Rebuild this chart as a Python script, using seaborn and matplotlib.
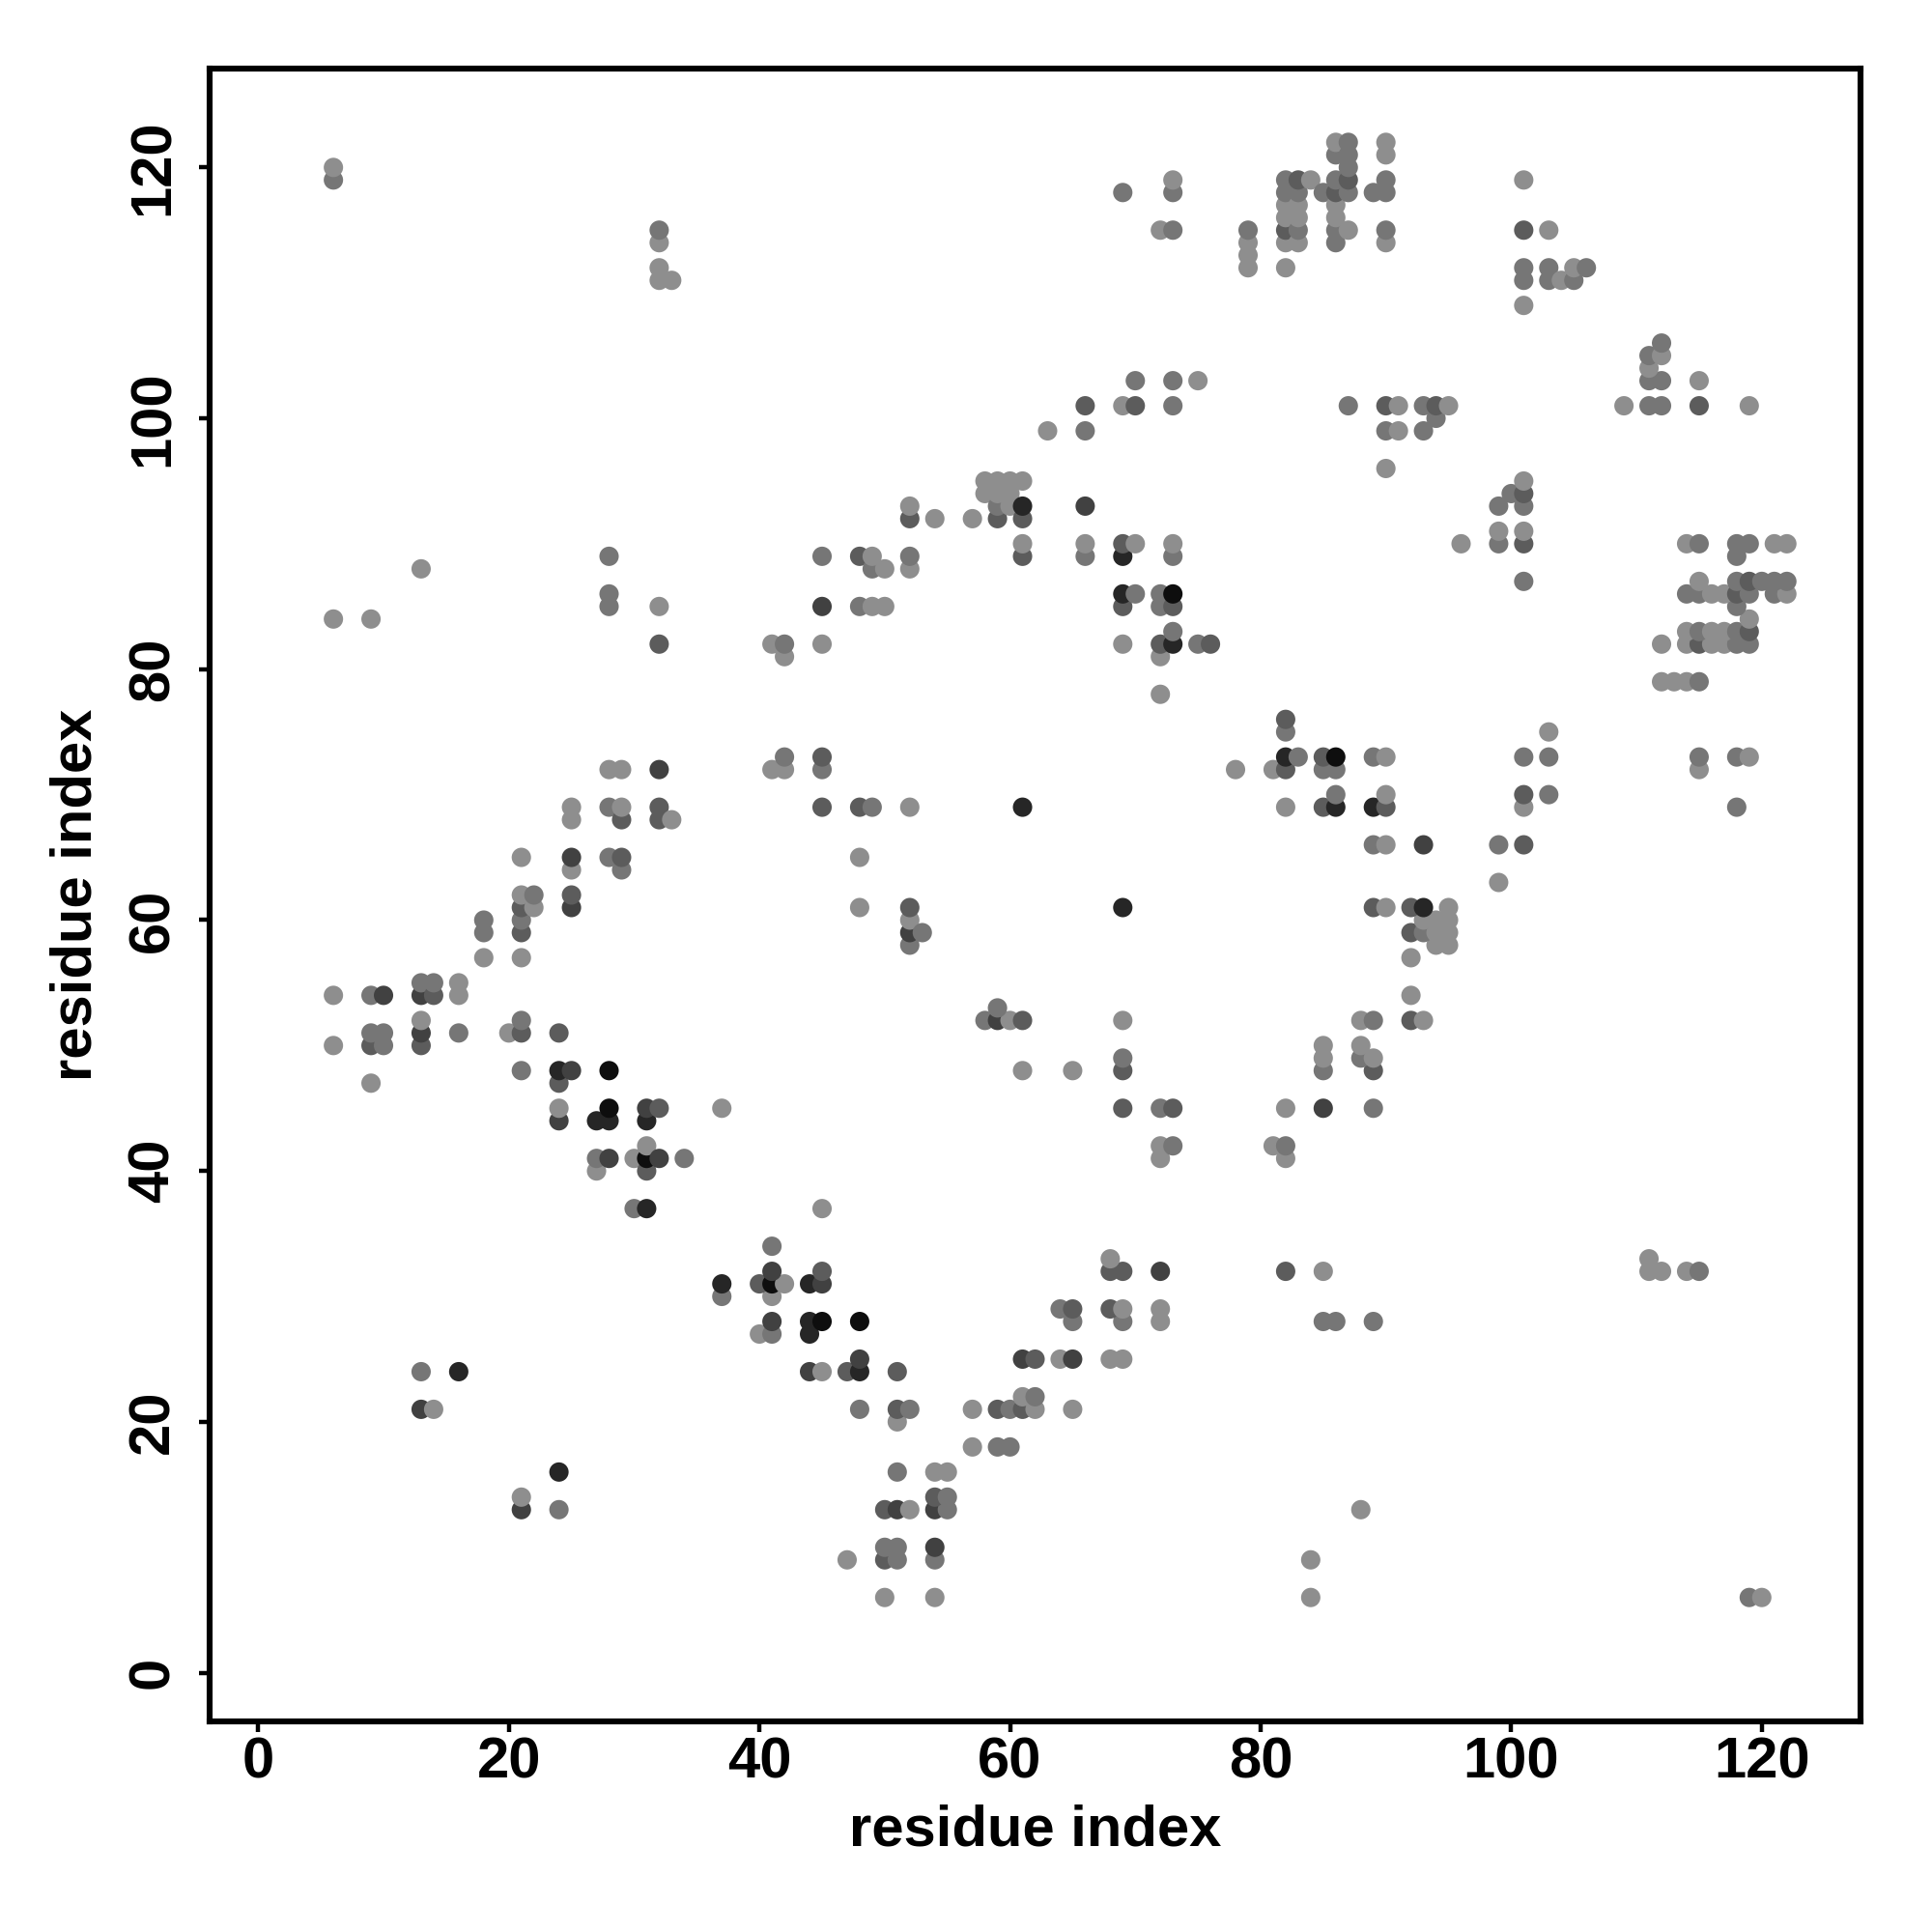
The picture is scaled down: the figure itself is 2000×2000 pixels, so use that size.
import matplotlib
matplotlib.use("Agg")
import matplotlib.pyplot as plt
import seaborn as sns
import pandas as pd

# Upper-triangle contacts (i < j); the contact map is symmetric.
res_i = [13, 14, 13, 16,
         6, 6, 6, 6, 6,
         9, 9, 9, 9, 9,
         10, 10, 10,
         13, 13, 13, 13, 13, 13,
         14, 14,
         16, 16, 16,
         18, 18, 18,
         20,
         21, 21, 21, 21, 21, 21, 21, 21, 21,
         22, 22,
         24, 24, 24, 24, 24,
         25, 25, 25, 25, 25, 25, 25,
         27, 27, 27,
         28, 28, 28, 28, 28, 28, 28, 28, 28, 28,
         29, 29, 29, 29, 29,
         30, 30,
         31, 31, 31, 31, 31, 31,
         32, 32, 34, 37,
         32, 32, 32, 32, 32, 32, 32, 32, 32,
         33, 33,
         41, 41,
         42, 42, 42, 42,
         45, 45, 45, 45, 45, 45,
         48, 48, 48, 48, 48,
         49, 49, 49, 49,
         50, 50,
         52, 52, 52, 52, 52, 52, 52, 52, 52,
         53, 54, 57,
         58, 58,
         59, 59, 59, 59,
         60, 60, 60,
         61, 61, 61, 61, 61, 61,
         63,
         66, 66, 66, 66, 66,
         69, 69, 69, 69, 69, 69, 69,
         70, 70, 70, 70,
         72, 72, 72, 72, 72, 72,
         73, 73, 73, 73, 73, 73, 73, 73, 73, 73, 73,
         75, 75, 76,
         79, 79, 79, 79,
         82, 82, 82, 82, 82, 82, 82,
         83, 83, 83, 83, 83, 83,
         84, 85,
         86, 86, 86, 86, 86, 86, 86, 86,
         87, 87, 87, 87, 87, 87, 87,
         89,
         90, 90, 90, 90, 90, 90, 90, 90, 90,
         91, 91, 93, 93, 94, 94, 95,
         101, 101, 101, 101, 101,
         103, 103, 103,
         104, 105, 105, 106]
res_j = [21, 21, 24, 24,
         50, 54, 84, 119, 120,
         47, 50, 51, 54, 84,
         50, 51, 54,
         50, 51, 52, 54, 55, 88,
         54, 55,
         51, 54, 55,
         57, 59, 60,
         51,
         48, 51, 52, 57, 59, 60, 61, 62, 65,
         61, 62,
         44, 45, 47, 48, 51,
         48, 61, 62, 64, 65, 68, 69,
         40, 41, 44,
         41, 44, 45, 48, 65, 69, 72, 85, 86, 89,
         64, 65, 68, 69, 72,
         37, 41,
         37, 40, 41, 42, 44, 45,
         41, 45, 41, 45,
         68, 69, 72, 82, 85, 111, 112, 114, 115,
         68, 111,
         72, 82,
         72, 73, 81, 82,
         69, 72, 73, 82, 85, 89,
         61, 65, 69, 85, 89,
         69, 85, 88, 89,
         85, 88,
         58, 59, 60, 61, 69, 88, 89, 92, 93,
         59, 92, 92,
         94, 95,
         92, 93, 94, 95,
         93, 94, 95,
         69, 89, 90, 92, 93, 95,
         99,
         89, 90, 93, 99, 101,
         82, 85, 86, 89, 90, 101, 118,
         86, 90, 101, 103,
         78, 81, 82, 85, 86, 115,
         82, 83, 85, 86, 89, 90, 101, 103, 115, 118, 119,
         82, 103, 82,
         112, 113, 114, 115,
         112, 114, 115, 116, 117, 118, 119,
         114, 115, 116, 117, 118, 119,
         119, 118,
         114, 115, 116, 117, 118, 119, 121, 122,
         101, 115, 118, 119, 120, 121, 122,
         118,
         96, 99, 101, 114, 115, 118, 119, 121, 122,
         99, 101, 99, 101, 100, 101, 101,
         109, 111, 112, 115, 119,
         111, 112, 115,
         111, 111, 112, 112]
shade = ["d", "a", "b", "e",
         "a", "a", "a", "b", "a",
         "a", "c", "b", "b", "a",
         "b", "b", "d",
         "c", "d", "a", "d", "b", "a",
         "c", "b",
         "b", "a", "a",
         "a", "b", "b",
         "a",
         "b", "c", "b", "a", "c", "b", "c", "a", "a",
         "a", "b",
         "d", "a", "c", "e", "c",
         "d", "d", "c", "a", "d", "a", "a",
         "a", "b", "e",
         "d", "e", "f", "f", "b", "b", "a", "b", "b", "b",
         "b", "c", "c", "a", "a",
         "b", "a",
         "e", "c", "f", "a", "e", "d",
         "d", "c", "b", "a",
         "c", "c", "d", "c", "a", "a", "a", "a", "b",
         "a", "a",
         "a", "a",
         "a", "b", "a", "b",
         "c", "b", "c", "a", "d", "b",
         "a", "a", "c", "b", "c",
         "b", "a", "b", "a",
         "a", "a",
         "b", "d", "a", "c", "a", "a", "b", "c", "a",
         "b", "a", "a",
         "a", "a",
         "c", "b", "a", "a",
         "a", "a", "a",
         "e", "c", "a", "c", "e", "a",
         "a",
         "b", "a", "d", "b", "c",
         "a", "c", "e", "e", "c", "a", "b",
         "b", "a", "c", "b",
         "a", "a", "c", "b", "b", "a",
         "e", "b", "c", "f", "b", "a", "b", "b", "b", "b", "a",
         "b", "a", "c",
         "a", "a", "a", "b",
         "a", "a", "c", "a", "a", "b", "b",
         "a", "b", "a", "a", "b", "c",
         "a", "b",
         "b", "b", "a", "a", "c", "b", "b", "a",
         "b", "a", "b", "c", "b", "b", "b",
         "b",
         "a", "b", "c", "a", "b", "b", "b", "a", "a",
         "a", "a", "b", "b", "b", "c", "a",
         "a", "b", "b", "c", "a",
         "b", "b", "a",
         "a", "b", "a", "b"]

gray_levels = {"a": "#8e8e8e", "b": "#767676", "c": "#5c5c5c",
               "d": "#414141", "e": "#262626", "f": "#0e0e0e"}

df = pd.DataFrame({
    "x": res_i + res_j,
    "y": res_j + res_i,
    "shade": shade + shade,
})

plt.rcParams["font.family"] = ["Liberation Sans", "DejaVu Sans"]
plt.rcParams["font.weight"] = "bold"

fig = plt.figure(figsize=(10, 10), dpi=200)
ax = fig.add_axes([0.1085, 0.109, 0.8545, 0.8555])

sns.scatterplot(data=df, x="x", y="y", hue="shade", palette=gray_levels,
                s=52, linewidth=0, legend=False, ax=ax, zorder=3)

lo, hi = 1 - 0.04 * 122, 123 + 0.04 * 122
ax.set_xlim(lo, hi)
ax.set_ylim(lo, hi)
ticks = [0, 20, 40, 60, 80, 100, 120]
ax.set_xticks(ticks)
ax.set_yticks(ticks)
ax.set_xticklabels([str(t) for t in ticks], fontsize=21.5, fontweight="bold")
ax.set_yticklabels([str(t) for t in ticks], fontsize=21.5, fontweight="bold",
                   rotation=90, va="center")
ax.tick_params(axis="both", direction="out", length=4.0, width=1.6, color="black")
ax.tick_params(axis="x", pad=1.5)
ax.tick_params(axis="y", pad=7)

for sp in ax.spines.values():
    sp.set_linewidth(2.2)
    sp.set_color("black")

ax.set_xlabel("residue index", fontsize=21.5, fontweight="bold")
ax.set_ylabel("residue index", fontsize=21.5, fontweight="bold")
ax.xaxis.label.set_va("center")
ax.yaxis.label.set_va("center")
ax.xaxis.set_label_coords(0.5, -0.066)
ax.yaxis.set_label_coords(-0.081, 0.5)
ax.grid(False)
ax.set_facecolor("white")

fig.savefig("out.png", dpi=200, facecolor="white")
